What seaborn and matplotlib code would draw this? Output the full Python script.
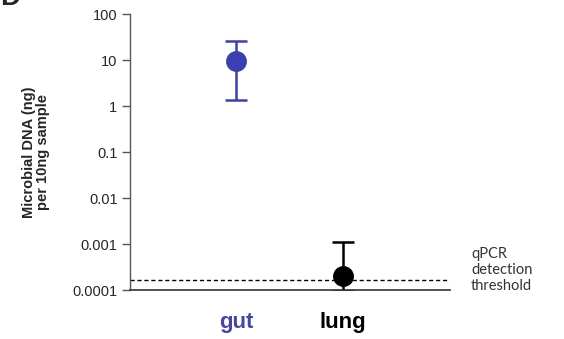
import matplotlib
matplotlib.use("Agg")
import matplotlib.pyplot as plt
import seaborn as sns
import pandas as pd

# Microbial DNA per 10 ng sample, mean with asymmetric range
categories = ["gut", "lung"]
means = [9.5, 2.0e-4]
lower = [1.35, 9.5e-5]
upper = [26.0, 1.1e-3]
colors = ["#3a3fb2", "#000000"]
label_colors = ["#4545a8", "#000000"]
threshold = 1.65e-4
yticks = [1e-4, 1e-3, 1e-2, 1e-1, 1, 10, 100]
yticklabels = ["0.0001", "0.001", "0.01", "0.1", "1", "10", "100"]

df = pd.DataFrame({"tissue": categories, "dna": means})

sns.set_theme(style="white")
plt.rcParams["font.family"] = ["Liberation Sans", "DejaVu Sans"]

fig = plt.figure(figsize=(5.64, 3.39), dpi=100)
ax = fig.add_axes([130 / 564, 1 - 290 / 339, 320 / 564, 276 / 339])

ax.set_yscale("log")

# error bars drawn first so the markers sit on top
for i, (m, lo, hi, c) in enumerate(zip(means, lower, upper, colors)):
    ax.errorbar(i, m, yerr=[[m - lo], [hi - m]], fmt="none", ecolor=c,
                elinewidth=1.8, capsize=8, capthick=1.8, zorder=2)

sns.pointplot(data=df, x="tissue", y="dna", hue="tissue", palette=colors,
              linestyle="none", markers="o", markersize=13, errorbar=None,
              legend=False, ax=ax, zorder=3)

# detection threshold
ax.axhline(threshold, color="black", lw=1.0, ls=(0, (3.0, 2)), zorder=1)

ax.set_xlim(-1.0, 2.01)
ax.set_ylim(1e-4, 100)
ax.set_yticks(yticks)
ax.set_yticklabels(yticklabels)
ax.yaxis.set_minor_locator(matplotlib.ticker.NullLocator())
ax.tick_params(axis="y", which="major", left=True, length=6, width=1.0,
               color="#555555", labelsize=10.5, pad=3)
ax.tick_params(axis="x", length=0, pad=16)

ax.set_xticks([0, 1])
ax.set_xticklabels(categories, fontsize=16, fontweight="bold")
for lab, c in zip(ax.get_xticklabels(), label_colors):
    lab.set_color(c)

ax.set_xlabel("")
ax.set_ylabel("Microbial DNA (ng)\nper 10ng sample", fontsize=10.5,
              fontweight="bold", labelpad=16, linespacing=1.0)

for side in ["top", "right"]:
    ax.spines[side].set_visible(False)
ax.spines["left"].set_color("#555555")
ax.spines["bottom"].set_color("#333333")
ax.spines["left"].set_linewidth(1.0)
ax.spines["bottom"].set_linewidth(1.2)

fig.text(471 / 564, 1 - 270 / 339, "qPCR\ndetection\nthreshold",
         fontsize=10.5, family=["Lato", "DejaVu Sans"], color="#333333",
         va="center", ha="left", linespacing=1.15)

# panel letter, running off the top edge
fig.text(0.0, 1 - 5 / 339, "D", fontsize=20, fontweight="bold",
         va="baseline", ha="left")

fig.savefig("out.png", dpi=100)
